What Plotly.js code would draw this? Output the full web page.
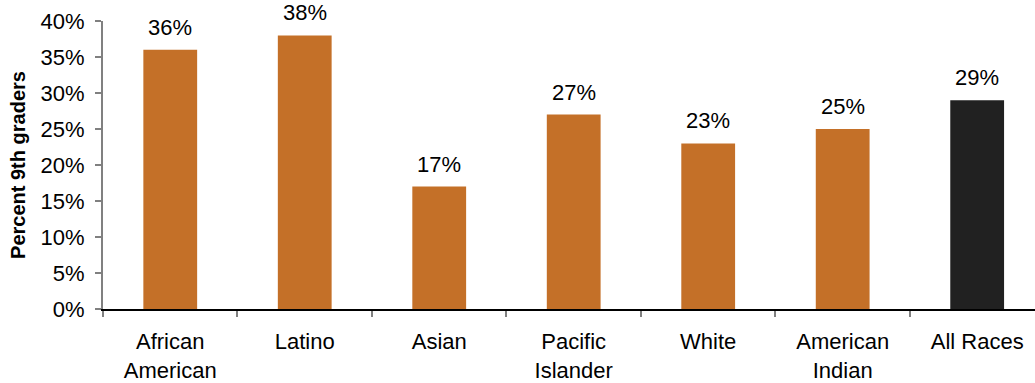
<!DOCTYPE html>
<html>
<head>
<meta charset="utf-8">
<script src="https://cdn.plot.ly/plotly-3.0.1.min.js"></script>
<style>html,body{margin:0;padding:0;background:#fff;}#chart{width:1035px;height:383px;}</style>
</head>
<body>
<div id="chart"></div>
<script>
var categories = ["African<br>American", "Latino", "Asian", "Pacific<br>Islander", "White", "American<br>Indian", "All Races"];
var values = [36, 38, 17, 27, 23, 25, 29];
var valueLabels = ["36%", "38%", "17%", "27%", "23%", "25%", "29%"];
var barColors = ["#C47028", "#C47028", "#C47028", "#C47028", "#C47028", "#C47028", "#212121"];
var yTickVals = [0, 5, 10, 15, 20, 25, 30, 35, 40];
var yTickText = ["0%", "5%", "10%", "15%", "20%", "25%", "30%", "35%", "40%"];

var font = "Liberation Sans, Arial, sans-serif";

var trace = {
  type: "bar",
  x: categories,
  y: values,
  marker: {color: barColors},
  width: 0.4,
  hoverinfo: "none"
};

var annotations = categories.map(function (c, i) {
  return {
    x: c, y: values[i], xref: "x", yref: "y",
    text: valueLabels[i], showarrow: false,
    yanchor: "bottom", yshift: 9, borderpad: 0,
    font: {family: font, size: 22, color: "#000"}
  };
});

var layout = {
  width: 1035, height: 383,
  margin: {l: 103, r: 0, t: 21, b: 74, pad: 0},
  paper_bgcolor: "#fff", plot_bgcolor: "#fff",
  showlegend: false,
  font: {family: font, size: 22, color: "#000"},
  xaxis: {
    type: "category",
    range: [-0.5, 6.43],
    tickson: "boundaries",
    ticks: "outside", ticklen: 6, tickcolor: "#808080", tickwidth: 2,
    showline: true, linecolor: "#000", linewidth: 1.5,
    showgrid: false, zeroline: false,
    tickfont: {family: font, size: 22, color: "#000"},
    ticklabelstandoff: 12
  },
  yaxis: {
    range: [0, 40],
    tickvals: yTickVals, ticktext: yTickText,
    ticks: "outside", ticklen: 6, tickcolor: "#808080", tickwidth: 1.5,
    showline: true, linecolor: "#808080", linewidth: 2,
    showgrid: false, zeroline: false,
    tickfont: {family: font, size: 22, color: "#000"},
    ticklabelstandoff: 6,
    title: {text: "Percent 9th graders", font: {family: font, size: 20, color: "#000", weight: "bold"}, standoff: 10}
  },
  annotations: annotations
};

Plotly.newPlot("chart", [trace], layout, {staticPlot: true, displayModeBar: false});
</script>
</body>
</html>
